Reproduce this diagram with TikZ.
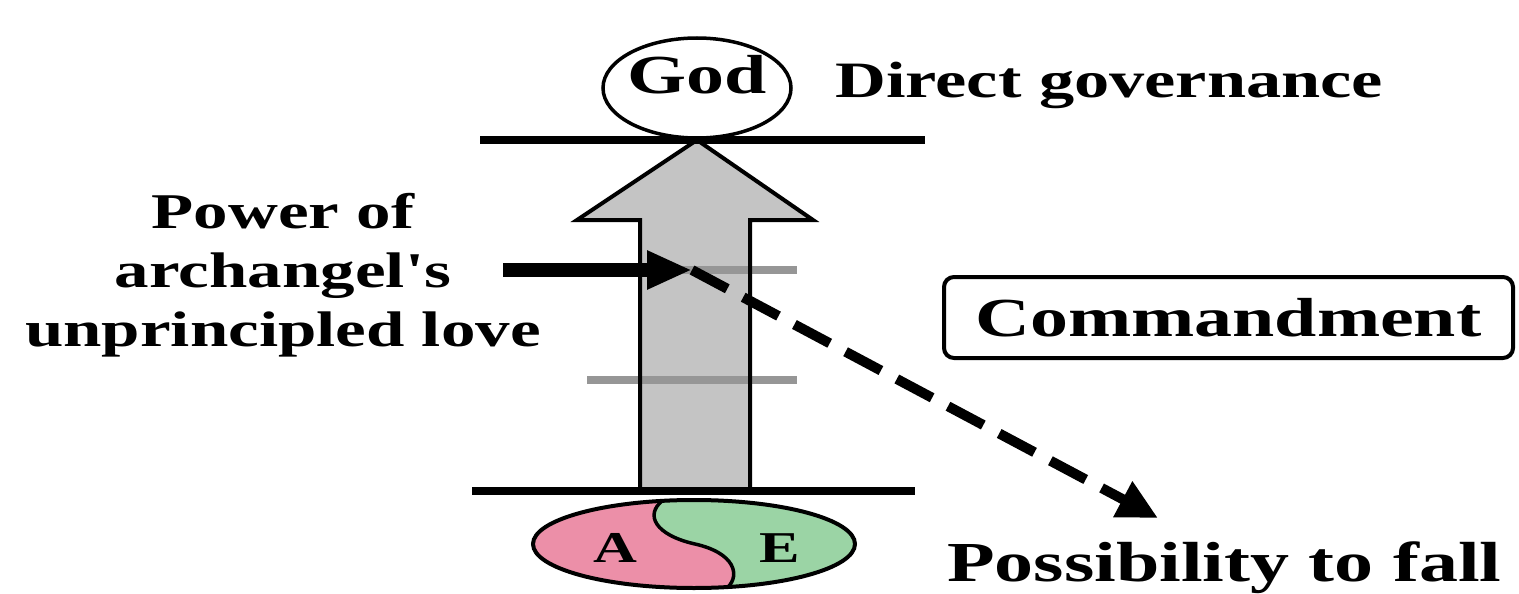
\documentclass[tikz,border=0pt]{standalone}
\usepackage{fontspec}
\newfontfamily\lbl[FakeStretch=1.38]{Liberation Serif Bold}
\usetikzlibrary{arrows.meta}
\definecolor{pinkA}{RGB}{236,143,168}
\definecolor{greenE}{RGB}{155,212,165}
\definecolor{shaftgray}{RGB}{196,196,196}
\definecolor{tickgray}{RGB}{150,150,150}
\begin{document}
\begin{tikzpicture}[x=1pt,y=-1pt,
  txt/.style={inner sep=0pt, font=\lbl\fontsize{#1}{#1}\selectfont},
  bar/.style={line width=8pt},
  tick/.style={line width=8pt, draw=tickgray},
  outline/.style={line width=4pt, line join=miter}]
\useasboundingbox[fill=white] (0,0) rectangle (1519,594);

% big gray block arrow
\fill[shaftgray] (640,491) -- (640,220) -- (577,220) -- (697,140) -- (813,220) -- (750,220) -- (750,491) -- cycle;
\draw[tick] (587,270) -- (797,270);
\draw[tick] (587,380) -- (797,380);
\draw[outline] (640,491) -- (640,220) -- (577,220) -- (697,140) -- (813,220) -- (750,220) -- (750,491);

% horizontal bars
\draw[bar] (480,140) -- (925,140);
\draw[bar] (472,491) -- (915,491);

% God
\draw[line width=3.5pt, fill=white] (697,88) ellipse [x radius=94, y radius=50];
\node[txt=55, anchor=base] (god) at (697,93) {God};
\node[txt=51, anchor=base west] (gov) at (835,98) {Direct governance};

% left label
\node[txt=50, anchor=base] (l1) at (283,228) {Power of};
\node[txt=50, anchor=base] (l2) at (283,287) {archangel's};
\node[txt=50, anchor=base] (l3) at (283,346) {unprincipled love};

% arrows
\coordinate (src) at (503,270);
\coordinate (hit) at (692,270);
\coordinate (fallpt) at (1158,518);
\draw[line width=14pt, -{Triangle[length=45pt,width=36pt]}] (src) -- (hit);
\draw[line width=10pt, dash pattern=on 40pt off 18pt, -{Triangle[length=40pt,width=38pt]}] (hit) -- (fallpt);

% commandment
\node[draw, line width=4pt, rounded corners=10pt, minimum width=569pt, minimum height=81pt,
      txt=55, inner sep=0pt] (cmd) at (1228.5,317.5) {Commandment};
\node[txt=56.5, anchor=base west] (fall) at (947,581) {Possibility to fall};

% A/E yin-yang ellipse
\fill[greenE] (694,544) ellipse [x radius=161, y radius=44];
\begin{scope}
  \clip (694,544) ellipse [x radius=161, y radius=44];
  \fill[pinkA] (662,501) .. controls (645,515) and (655,535) .. (695,544)
     .. controls (735,553) and (740,575) .. (728,587) -- (728,620) -- (500,620) -- (500,470) -- (662,470) -- cycle;
\end{scope}
\draw[line width=3.5pt] (662,501) .. controls (645,515) and (655,535) .. (695,544)
     .. controls (735,553) and (740,575) .. (728,587);
\draw[line width=4pt] (694,544) ellipse [x radius=161, y radius=44];
\node[txt=44, anchor=base] (A) at (615,562) {A};
\node[txt=44, anchor=base] (E) at (780,562) {E};
\end{tikzpicture}
\end{document}
